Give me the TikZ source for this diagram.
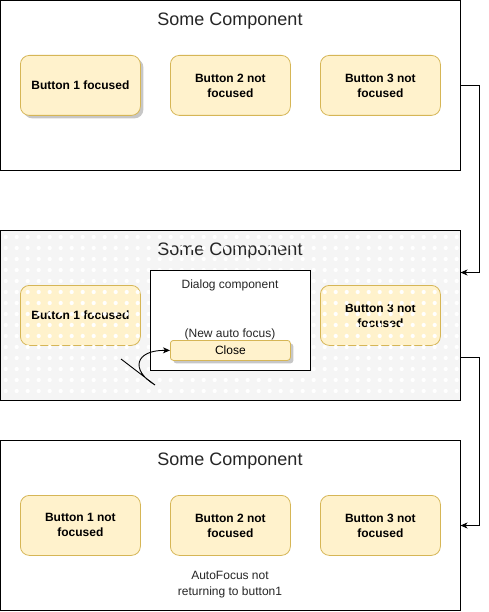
\documentclass[tikz,border=0pt]{standalone}
\usepackage{fontspec}
\setmainfont{Liberation Sans}
\usetikzlibrary{arrows.meta,shadows}
\definecolor{btnfill}{HTML}{FFF2CC}
\definecolor{btnline}{HTML}{D6B656}
\definecolor{bggray}{HTML}{F5F5F5}
\tikzset{
  comp/.style={draw=black, line width=1pt, minimum width=460pt, minimum height=170pt,
    anchor=north west, inner sep=0pt, outer sep=0pt},
  ttl/.style={font=\fontsize{18}{21}\selectfont, text=black!85, inner sep=0pt},
  btn/.style={draw=btnline, fill=btnfill, line width=0.8pt, rounded corners=9pt,
    minimum width=120pt, minimum height=60pt, align=center, anchor=north west,
    inner sep=0pt, font=\bfseries\fontsize{12}{15}\selectfont},
  shad/.style={drop shadow={shadow xshift=3pt, shadow yshift=-3pt, fill=black, opacity=0.22}},
  plain/.style={font=\fontsize{12}{16}\selectfont, align=center, inner sep=0pt, text=black!85},
  conn/.style={draw=black, line width=0.9pt, -{Stealth[length=7pt,width=6pt,inset=2pt]}},
}
\begin{document}
\begin{tikzpicture}[x=1pt,y=-1pt]
\useasboundingbox (0,0) rectangle (489,612);

% ---------- Component 1 ----------
\node[comp, fill=white] (c1) at (0.5,0.5) {};
\node[ttl] (t1) at (230,21.5) {Some Component};
\node[btn, shad] (b11) at (20,55) {Button 1 focused};
\node[btn] (b12) at (170,55) {Button 2 not\\focused};
\node[btn] (b13) at (320,55) {Button 3 not\\focused};

% ---------- Component 2 ----------
\node[comp, draw=none, fill=bggray] (c2) at (0.5,230.5) {};
\node[ttl] (t2) at (230,251.5) {Some Component};
\node[btn] (b21) at (20,285) {Button 1 focused};
\node[btn] (b23) at (320,285) {Button 3 not\\focused};
% dot pattern overlay
\foreach \i in {0,...,41}{
  \foreach \j in {0,...,14}{
    \fill[white] ({5.7+11*\i},{237+11*\j}) circle (2.1pt);
  }
}
\node[comp, fill=none] (c2b) at (0.5,230.5) {};
% dialog
\node[draw=black, fill=white, line width=1pt, minimum width=160pt, minimum height=100pt,
  anchor=north west, inner sep=0pt] (dlg) at (150,270) {};
\node[plain] (dt) at (230,285) {Dialog component};
\node[plain] (na) at (230,334) {(New auto focus)};
\node[btn, shad, rounded corners=3pt, minimum height=20pt, font=\fontsize{12}{15}\selectfont]
  (close) at (170,340) {Close};
\coordinate (sA) at (121,359);
\coordinate (sB) at (155,385);
\draw[line width=0.9pt, -{Stealth[length=7pt,width=6pt,inset=2pt]}]
  (sA) -- (sB) .. controls (130,370) and (135,350) .. (close.west);

% ---------- Component 3 ----------
\node[comp, fill=white] (c3) at (0.5,440.5) {};
\node[ttl] (t3) at (230,461.5) {Some Component};
\node[btn] (b31) at (20,495) {Button 1 not\\focused};
\node[btn] (b32) at (170,495) {Button 2 not\\focused};
\node[btn] (b33) at (320,495) {Button 3 not\\focused};
\node[plain] (note) at (230,585) {AutoFocus not\\returning to button1};

% ---------- connectors ----------
\coordinate (in2) at ([yshift=-42pt]c2b.north east);
\coordinate (out2) at ([yshift=-127pt]c2b.north east);
\draw[conn] (c1.east) -- ++(19,0) |- (in2);
\draw[conn] (out2) -- ++(19,0) |- (c3.east);
\end{tikzpicture}
\end{document}
